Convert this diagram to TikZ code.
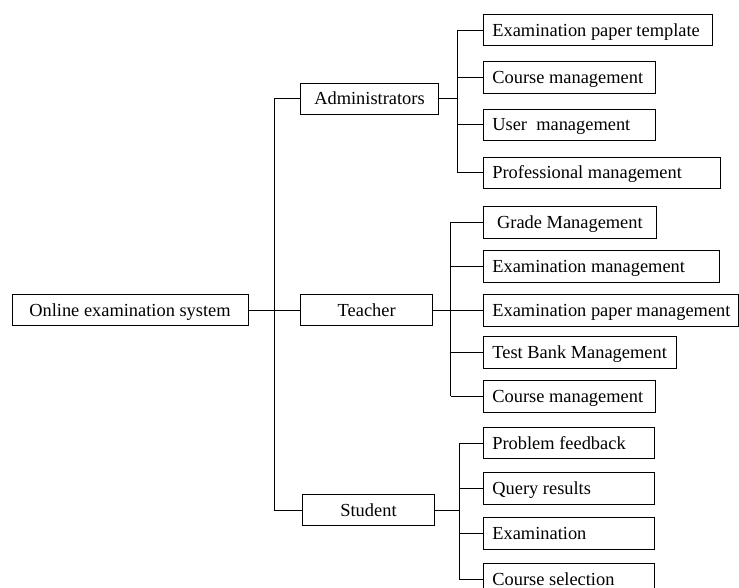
\documentclass[tikz,border=0pt]{standalone}
\usepackage{fontspec}
\setmainfont{Liberation Serif}
\usetikzlibrary{positioning,calc}
\tikzset{line width=.6pt,
  every node/.style={font=\fontsize{13.8}{16}\selectfont},
  box/.style={draw,line width=.6pt,inner xsep=6.5pt,inner ysep=0pt,
    minimum height=23.6pt,text height=12.1pt,text depth=3pt},
  leaf/.style={box,anchor=west},
  link/.style={draw,line width=.6pt}}
\begin{document}
\begin{tikzpicture}[x=.75pt,y=-.75pt]
\useasboundingbox (0,0) rectangle (739,588);
% top levels
\node[box,minimum width=177pt] (root) at (130,310) {Online examination system};
\node[box,minimum width=103.2pt] (adm) at (369.5,98.7) {Administrators};
\node[box,minimum width=99pt] (tea) at (366.7,310) {Teacher};
\node[box,minimum width=98.7pt] (stu) at (368.5,510) {Student};
% leaves
\foreach \n/\y/\w/\t in {a1/30/158.75/Examination paper template,a2/77.3/115.8/Course management,
  a3/124.7/115.8/User\ \ management,a4/172.7/164.75/Professional management,
  t2/266.2/164/Examination management,t3/310.2/178/Examination paper management,
  t4/352.5/131.5/Test Bank Management,t5/396.2/115.8/Course management,
  s1/443/115.3/Problem feedback,s2/488.2/115.3/Query results,
  s3/533.5/115.3/Examination,s4/579/115.3/Course selection}
  \node[leaf] (\n) at (483.3,\y) {\makebox[\w pt][l]{\t}};
\node[leaf] (t1) at (483.3,222.5) {\makebox[116.3pt][c]{Grade Management}};
% connectors
\draw[link] (root.east) -- (tea.west);
\draw[link] (adm.west) -- ++(-25.7,0) |- (stu.west);
\coordinate (ab) at (457.7,0);\coordinate (tb) at (450.7,0);\coordinate (sb) at (459,0);
\draw[link] (adm.east) -- (adm.east -| ab);\draw[link] (ab |- a1.west) -- (ab |- a4.west);
\draw[link] (tea.east) -- (tea.east -| tb);\draw[link] (tb |- t1.west) -- (tb |- t5.west);
\draw[link] (stu.east) -- (stu.east -| sb);\draw[link] (sb |- s1.west) -- (sb |- s4.west);
\foreach \i in {1,...,4}{\draw[link] (ab |- a\i.west) -- (a\i.west);\draw[link] (sb |- s\i.west) -- (s\i.west);}
\foreach \i in {1,...,5}{\draw[link] (tb |- t\i.west) -- (t\i.west);}
\end{tikzpicture}
\end{document}
